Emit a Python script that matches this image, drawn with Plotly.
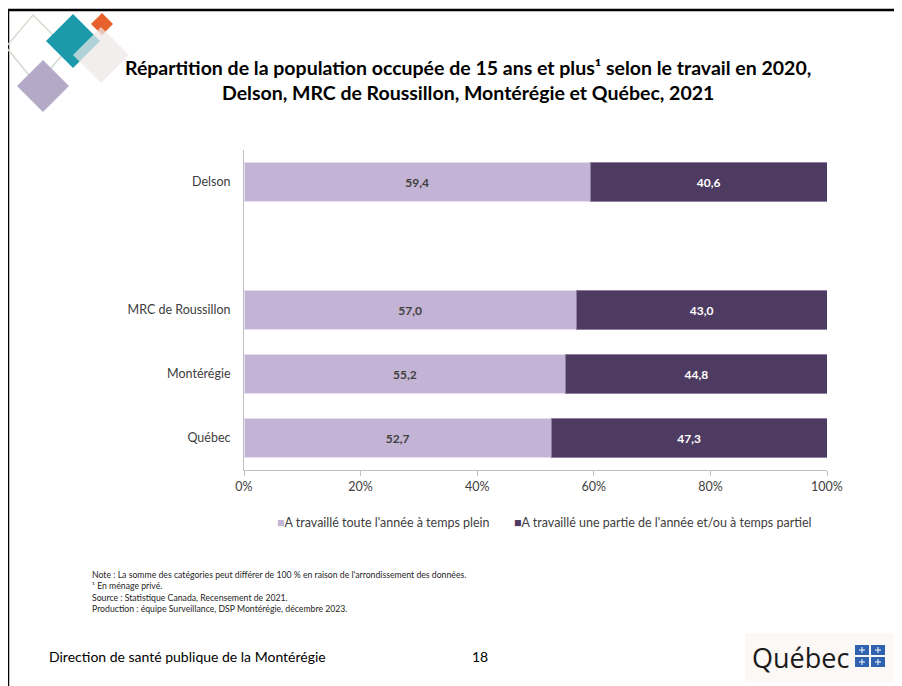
import plotly.graph_objects as go

categories = ["Delson", "MRC de Roussillon", "Montérégie", "Québec"]
axis_order = ["Delson", " ", "MRC de Roussillon", "Montérégie", "Québec"]
full_time = [59.4, 57.0, 55.2, 52.7]
part_time = [40.6, 43.0, 44.8, 47.3]
series_names = ["A travaillé toute l'année à temps plein",
                "A travaillé une partie de l'année et/ou à temps partiel"]
series_colors = ["#C3B3D4", "#4E3B61"]
tick_vals = [0, 20, 40, 60, 80, 100]
tick_text = ["0%", "20%", "40%", "60%", "80%", "100%"]

FONT = "Lato"
OFF = 8  # page body margin
W, H = 902 - OFF, 686 - OFF
L, R, T, B = 244, 827, 150, 470  # plot area in screen pixels


def px(x):
    return (x - L) / (R - L)


def py(y):
    return (B - y) / (B - T)


fig = go.Figure()
fig.add_trace(go.Bar(
    y=categories, x=full_time, orientation="h", name=series_names[0],
    marker=dict(color=series_colors[0], line=dict(color="#E6DEEE", width=1)),
    width=0.6, texttemplate="%{x:.1f}", textposition="inside",
    insidetextanchor="middle",
    textfont=dict(family=FONT, size=12, color="#404040", weight="bold"),
))
fig.add_trace(go.Bar(
    y=categories, x=part_time, orientation="h", name=series_names[1],
    marker=dict(color=series_colors[1], line=dict(color="#8E80A0", width=1)),
    width=0.6, texttemplate="%{x:.1f}", textposition="inside",
    insidetextanchor="middle",
    textfont=dict(family=FONT, size=12, color="#FFFFFF", weight="bold"),
))

shapes = []
# slide frame lines
shapes.append(dict(type="line", xref="paper", yref="paper",
                   x0=px(7), x1=px(902), y0=py(10), y1=py(10),
                   line=dict(color="#000000", width=2.5)))
shapes.append(dict(type="line", xref="paper", yref="paper",
                   x0=px(8), x1=px(8), y0=py(9), y1=py(690),
                   line=dict(color="#000000", width=2.5)))


def poly(pts, fill=None, line=None):
    path = "M " + " L ".join(f"{px(a)} {py(b)}" for a, b in pts) + " Z"
    d = dict(type="path", xref="paper", yref="paper", path=path, layer="above")
    d["fillcolor"] = fill if fill else "rgba(0,0,0,0)"
    d["line"] = line if line else dict(width=0)
    return d


def diamond(cx, cy, h, fill=None, line=None):
    return poly([(cx, cy - h), (cx + h, cy), (cx, cy + h), (cx - h, cy)], fill, line)


shapes.append(poly([(33, 15), (67, 49), (37, 85), (6, 47)],
                   line=dict(color="#D3DBCF", width=1.5)))
shapes.append(diamond(43, 86, 26, fill="#B4AAC7"))
shapes.append(diamond(73, 41, 27, fill="#1A9AAB"))
shapes.append(diamond(102, 24, 11, fill="#E8612C"))
shapes.append(diamond(101, 55, 28, fill="rgba(236,232,230,0.72)"))

# Québec logo background and flag squares
shapes.append(dict(type="rect", xref="paper", yref="paper",
                   x0=px(745), x1=px(896), y0=py(633), y1=py(682),
                   fillcolor="#FBF8F6", line=dict(width=0), layer="below"))
for (sx, sy) in [(855, 645), (871, 645), (855, 657), (871, 657)]:
    shapes.append(dict(type="rect", xref="paper", yref="paper",
                       x0=px(sx), x1=px(sx + 14), y0=py(sy), y1=py(sy + 10),
                       fillcolor="#2F63B0", line=dict(width=0)))
    shapes.append(dict(type="line", xref="paper", yref="paper",
                       x0=px(sx + 7), x1=px(sx + 7), y0=py(sy + 2), y1=py(sy + 8),
                       line=dict(color="#FFFFFF", width=1)))
    shapes.append(dict(type="line", xref="paper", yref="paper",
                       x0=px(sx + 4), x1=px(sx + 10), y0=py(sy + 5), y1=py(sy + 5),
                       line=dict(color="#FFFFFF", width=1)))

annotations = [
    dict(text="Répartition de la population occupée de 15 ans et plus¹ selon le travail en 2020,"
              "<br>Delson, MRC de Roussillon, Montérégie et Québec, 2021",
         x=px(468), y=py(80), xref="paper", yref="paper", showarrow=False,
         xanchor="center", yanchor="middle",
         font=dict(family=FONT, size=19.5, color="#000000", weight="bold")),
    dict(text="Note : La somme des catégories peut différer de 100 % en raison de l'arrondissement des données."
              "<br>¹ En ménage privé."
              "<br>Source : Statistique Canada, Recensement de 2021."
              "<br>Production : équipe Surveillance, DSP Montérégie, décembre 2023.",
         x=px(90), y=py(567), xref="paper", yref="paper", showarrow=False,
         xanchor="left", yanchor="top", align="left",
         font=dict(family=FONT, size=8.7, color="#262626")),
    dict(text="Direction de santé publique de la Montérégie",
         x=px(47), y=py(656), xref="paper", yref="paper", showarrow=False,
         xanchor="left", yanchor="middle",
         font=dict(family=FONT, size=14, color="#000000")),
    dict(text="18", x=px(480), y=py(656), xref="paper", yref="paper",
         showarrow=False, xanchor="center", yanchor="middle",
         font=dict(family=FONT, size=14, color="#000000")),
    dict(text="Québec", x=px(851), y=py(657), xref="paper", yref="paper",
         showarrow=False, xanchor="right", yanchor="middle",
         font=dict(family="Open Sans", size=27, color="#1A1A1A")),
]

# legend drawn as text with coloured square glyphs
legend_x = [275, 512]
for name, color, lx in zip(series_names, series_colors, legend_x):
    annotations.append(dict(
        text=f"<span style='color:{color}'>■</span>{name}",
        x=px(lx), y=py(522), xref="paper", yref="paper", showarrow=False,
        xanchor="left", yanchor="middle",
        font=dict(family=FONT, size=12.5, color="#404040")))

fig.update_layout(
    width=W, height=H,
    margin=dict(l=L - OFF, r=W - (R - OFF), t=T - OFF, b=H - (B - OFF), pad=0),
    paper_bgcolor="#FFFFFF", plot_bgcolor="#FFFFFF",
    barmode="stack", bargap=0.4,
    separators=", ",
    font=dict(family=FONT, size=12, color="#404040"),
    showlegend=False,
    xaxis=dict(range=[0, 100], tickvals=tick_vals, ticktext=tick_text,
               showgrid=False, zeroline=False, showline=True,
               linecolor="#BFBFBF", linewidth=1, ticks="outside",
               tickcolor="#BFBFBF", ticklen=5, tickfont=dict(size=12.5, color="#404040"),
               fixedrange=True),
    yaxis=dict(type="category", categoryorder="array", categoryarray=axis_order,
               range=[4.5, -0.5], showgrid=False, zeroline=False, showline=True,
               linecolor="#BFBFBF", linewidth=1, ticks="", ticklabelstandoff=10,
               tickfont=dict(size=12.5, color="#404040"), fixedrange=True),
    shapes=shapes, annotations=annotations,
)

fig.write_html("out.html")
